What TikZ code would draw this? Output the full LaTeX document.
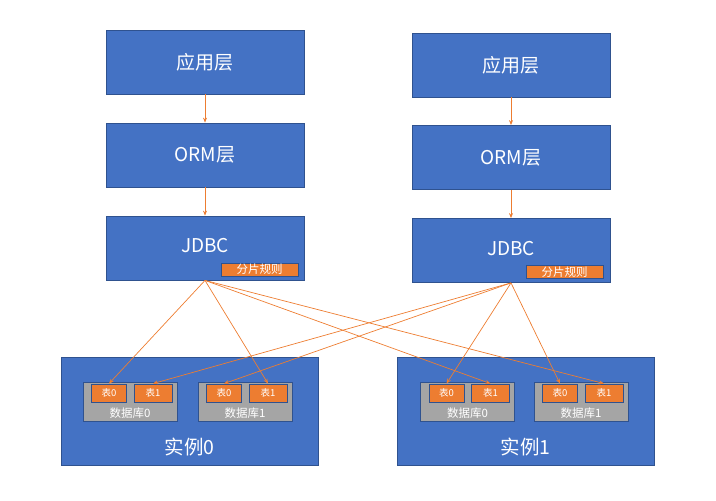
\documentclass[tikz,border=0pt]{standalone}
\usepackage{fontspec}
\setmainfont{Noto Sans CJK SC}
\usetikzlibrary{arrows.meta}
\definecolor{boxblue}{HTML}{4472C4}
\definecolor{edgeblue}{HTML}{2F528F}
\definecolor{tagorange}{HTML}{ED7D31}
\definecolor{dbgray}{HTML}{A5A5A5}
\begin{document}
\begin{tikzpicture}[x=1pt, y=-1pt,
		layer/.style={draw=edgeblue, fill=boxblue, line width=0.8pt, text=white, minimum width=198pt, minimum height=64pt, font=\fontsize{19}{22}\selectfont},
		inst/.style={draw=edgeblue, fill=boxblue, line width=0.8pt, minimum width=257pt, minimum height=108pt},
		db/.style={draw=edgeblue, fill=dbgray, line width=0.8pt, minimum width=94pt, minimum height=39pt},
		tbl/.style={draw=edgeblue, fill=tagorange, line width=0.8pt, text=white, minimum height=18pt, inner sep=0pt, font=\fontsize{9.5}{10}\selectfont},
		rule/.style={draw=edgeblue, fill=tagorange, line width=0.5pt, text=white, minimum width=77pt, minimum height=13pt, inner sep=0pt, font=\fontsize{11.5}{12}\selectfont},
		lbl/.style={text=white, inner sep=0pt},
		link/.style={draw=tagorange, line width=0.7pt, -{Stealth[length=5pt,width=4pt]}}]
	\useasboundingbox (0,0) rectangle (716,501);
	% left stack
	\node[layer] (appA) at (205,62) {应用层};
	\node[layer] (ormA) at (205,155) {ORM层};
	\node[layer] (jdbcA) at (205,248) {};
	\node[lbl, font=\fontsize{19}{22}\selectfont] at (205,246) {JDBC};
	\node[rule] (ruleA) at (259.5,269.5) {分片规则};
	% right stack
	\node[layer] (appB) at (511,65) {应用层};
	\node[layer] (ormB) at (511,157.5) {ORM层};
	\node[layer] (jdbcB) at (511,250.5) {};
	\node[lbl, font=\fontsize{19}{22}\selectfont] at (511,248.5) {JDBC};
	\node[rule] (ruleB) at (564.5,272) {分片规则};
	% instances and databases
	\foreach \i/\ix/\da/\db in {0/189.5/130/245, 1/525.5/467.5/581} {
		\node[inst] (inst\i) at (\ix,411) {};
		\node[lbl, font=\fontsize{19.5}{22}\selectfont] at (\ix,447) {实例\i};
		\foreach \d/\dx in {0/\da, 1/\db} {
			\node[db] (db\i\d) at (\dx,401.5) {};
			\node[lbl, font=\fontsize{11.5}{12}\selectfont] at (\dx,413) {数据库\d};
			\node[tbl, minimum width=35pt] (t\i\d0) at (\dx-21,393) {表0};
			\node[tbl, minimum width=38pt] (t\i\d1) at (\dx+23,393) {表1};
		}
	}
	% connectors
	\draw[link] (appA) -- (ormA);
	\draw[link] (ormA) -- (jdbcA);
	\draw[link] (appB) -- (ormB);
	\draw[link] (ormB) -- (jdbcB);
	\foreach \t in {t000, t011, t101, t111} \draw[link] (jdbcA.south) -- (\t.north);
	\foreach \t in {t001, t010, t100, t110} \draw[link] (jdbcB.south) -- (\t.north);
\end{tikzpicture}
\end{document}
